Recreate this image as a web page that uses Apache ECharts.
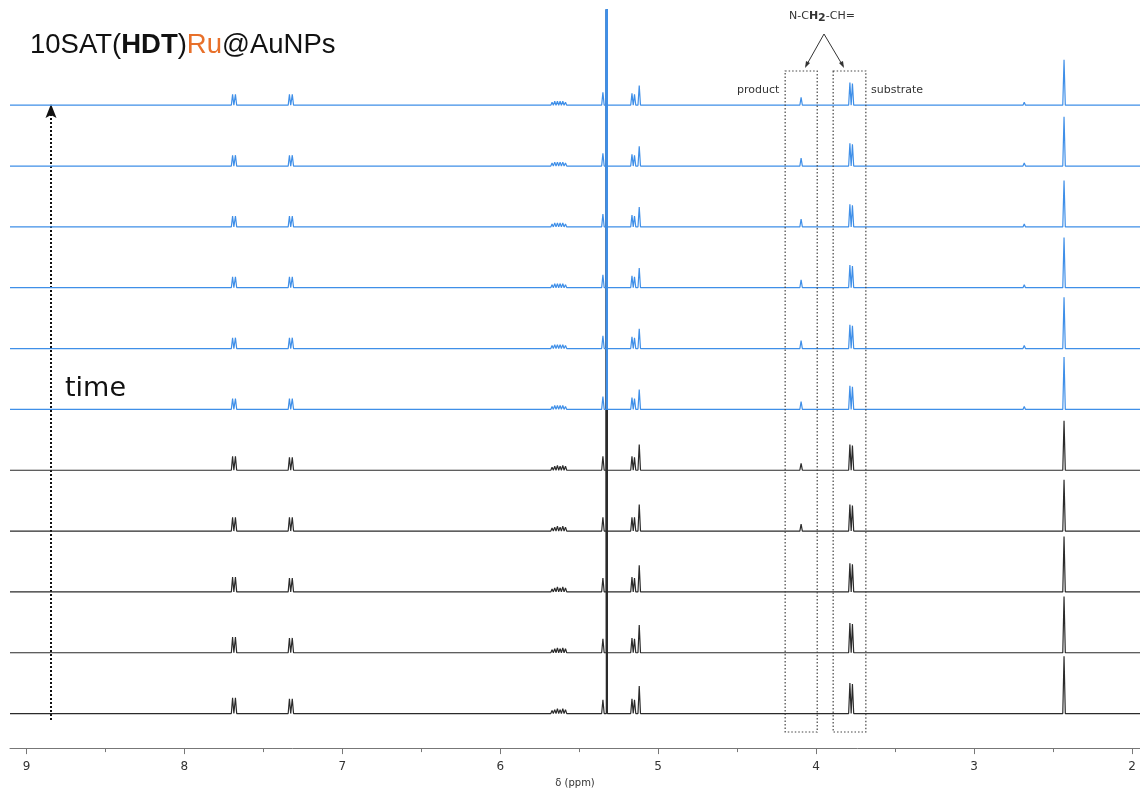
<!DOCTYPE html>
<html><head><meta charset="utf-8">
<script src="https://cdn.jsdelivr.net/npm/echarts@6/dist/echarts.min.js"></script>
<style>html,body{margin:0;background:#fff}#c{width:1140px;height:793px}</style>
</head><body><div id="c"></div>
<script>
// Chemical shifts (ppm) of the resolved resonances, low field first
const shifts = [7.695, 7.677, 7.335, 7.317,
  5.672, 5.655, 5.638, 5.621, 5.604, 5.587, 5.570,
  5.400, 5.350, 5.325, 5.166, 5.150, 5.120,
  4.095, 3.786, 3.770, 2.682, 2.430, 2.395, 2.125];

// Peak intensities per spectrum, earliest acquisition first
const earlySpectra = [
  [16,16,15,15, 3,4,5,4,5,4,2, 2,14,2000, 15,14,28, 1, 31,30, 2,58,2,2],
  [16,16,15,15, 3,4,5,4,5,4,2, 2,14,2000, 15,14,28, 1, 30,29, 2,57,2,2],
  [15,15,14,14, 3,4,5,4,5,4,2, 2,14,2000, 15,14,27, 2, 29,28, 2,56,2,2],
  [14,14,14,14, 3,4,5,4,5,4,2, 2,14,2000, 14,14,27, 7, 27,26, 2,52,2,2],
  [14,14,13,13, 3,4,5,4,5,4,2, 2,14,2000, 14,13,26, 7, 26,25, 2,50,2,2]
];
const lateSpectra = [
  [11,11,11,11, 3,4,4,4,4,3,2, 1,13,2000, 12,11,20, 8, 24,23, 3,53,2,2],
  [11,11,11,11, 3,4,4,4,4,3,2, 1,13,2000, 12,11,20, 8, 24,23, 3,52,2,2],
  [11,11,11,11, 3,4,4,4,4,3,2, 1,13,2000, 12,11,20, 8, 23,22, 3,51,2,2],
  [11,11,11,11, 3,4,4,4,4,3,2, 1,13,2000, 12,11,20, 8, 23,22, 3,47,2,2],
  [11,11,11,11, 3,4,4,4,4,3,2, 1,13,2000, 12,11,20, 8, 23,22, 3,50,2,2],
  [11,11,11,11, 3,4,4,4,4,3,2, 1,13,2000, 12,11,20, 8, 23,22, 3,46,2,2]
];

const ppmTicks = [2, 3, 4, 5, 6, 7, 8, 9];
const ppmMinorTicks = [2.5, 3.5, 4.5, 5.5, 6.5, 7.5, 8.5];

const PPM_MAX = 9.1045, PPM_MIN = 1.949;
const STACK = 61.65;         // vertical offset between stacked spectra
const AXIS_Y = 758;          // pixel row of the shift axis
const BASE0 = 723;           // pixel row of the earliest spectrum baseline
const BLACK = '#2b2b2b', BLUE = '#3f8fe8';

function trace(heights, offset) {
  const pts = [[PPM_MAX, offset]];
  heights.forEach((h, k) => {
    const c = shifts[k];
    const w = h > 500 ? 0.0035 : 0.008;
    pts.push([c + w, offset], [c, offset + h], [c - w, offset]);
  });
  pts.push([PPM_MIN, offset]);
  return pts;
}

const all = earlySpectra.map(h => ({ h, color: BLACK }))
  .concat(lateSpectra.map(h => ({ h, color: BLUE })));

const series = all.map((s, i) => ({
  type: 'line',
  data: trace(s.h, i * STACK),
  showSymbol: false,
  clip: true,
  lineStyle: { color: s.color, width: 1.2 },
  z: 2 + i,
  silent: true
}));

const chart = echarts.init(document.getElementById('c'), null, { renderer: 'canvas' });
chart.setOption({
  animation: false,
  backgroundColor: '#fff',
  grid: { left: 10, right: 0, top: 10, bottom: 793 - AXIS_Y },
  xAxis: [{
    type: 'value', inverse: true, min: PPM_MIN, max: PPM_MAX, position: 'bottom',
    name: 'δ (ppm)', nameLocation: 'middle', nameGap: 29,
    nameTextStyle: { fontFamily: 'DejaVu Sans', fontSize: 10, color: '#333' },
    axisLine: { show: true, onZero: false, lineStyle: { color: '#777', width: 1 } },
    axisTick: { show: true, length: 6, customValues: ppmTicks, lineStyle: { color: '#777' } },
    axisLabel: { customValues: ppmTicks, fontFamily: 'DejaVu Sans', fontSize: 12, color: '#333', margin: 13,
      formatter: v => String(Math.round(v)) },
    splitLine: { show: false }
  }, {
    type: 'value', inverse: true, min: PPM_MIN, max: PPM_MAX, position: 'bottom',
    axisLine: { show: false, onZero: false },
    axisTick: { show: true, length: 4, customValues: ppmMinorTicks, lineStyle: { color: '#777' } },
    axisLabel: { show: false },
    splitLine: { show: false }
  }],
  yAxis: { type: 'value', show: false, min: -(AXIS_Y - BASE0), max: BASE0 - 10, splitLine: { show: false } },
  series
});

// annotations placed against the shift scale
const px = v => chart.convertToPixel({ xAxisIndex: 0 }, v);
const boxTop = 71, boxBottom = 732;
const prodL = px(4.196), prodR = px(3.993);
const subL = px(3.892), subR = px(3.685);
const dotted = { stroke: '#444', lineWidth: 1.2, lineDash: [1.5, 2], fill: null };

chart.setOption({
  graphic: [
    {
      type: 'text', left: 30, top: 31,
      style: {
        text: '{n|10SAT(}{b|HDT}{n|)}{o|Ru}{n|@AuNPs}',
        rich: {
          n: { fontFamily: 'Liberation Sans', fontSize: 27.5, fill: '#111' },
          b: { fontFamily: 'Liberation Sans', fontSize: 27.5, fontWeight: 'bold', fill: '#111' },
          o: { fontFamily: 'Liberation Sans', fontSize: 27.5, fill: '#e8702a' }
        }
      }
    },
    { type: 'text', left: 65, top: 375, style: { text: 'time', fontFamily: 'DejaVu Sans', fontSize: 27, fill: '#111' } },
    { type: 'line', shape: { x1: 51, y1: 720, x2: 51, y2: 114 }, style: { stroke: '#111', lineWidth: 2, lineDash: [2, 2] } },
    { type: 'polygon', shape: { points: [[51, 104], [56.5, 118], [51, 115], [45.5, 118]] }, style: { fill: '#111' } },

    { type: 'rect', shape: { x: prodL, y: boxTop, width: prodR - prodL, height: boxBottom - boxTop }, style: dotted, z: 50 },
    { type: 'rect', shape: { x: subL, y: boxTop, width: subR - subL, height: boxBottom - boxTop }, style: dotted, z: 50 },

    {
      type: 'text', left: 789, top: 11,
      style: {
        text: '{n|N-C}{b|H}{s|2}{n|-CH=}',
        rich: {
          n: { fontFamily: 'DejaVu Sans', fontSize: 11, fill: '#333' },
          b: { fontFamily: 'DejaVu Sans', fontSize: 11, fontWeight: 'bold', fill: '#333' },
          s: { fontFamily: 'DejaVu Sans', fontSize: 11, fontWeight: 'bold', fill: '#333', verticalAlign: 'bottom', padding: [4, 0, 0, 0] }
        }
      }
    },
    { type: 'line', shape: { x1: 824, y1: 34, x2: 806, y2: 66 }, style: { stroke: '#333', lineWidth: 1 } },
    { type: 'line', shape: { x1: 824, y1: 34, x2: 843, y2: 66 }, style: { stroke: '#333', lineWidth: 1 } },
    { type: 'polygon', shape: { points: [[805, 68], [806, 61], [810, 63]] }, style: { fill: '#333' } },
    { type: 'polygon', shape: { points: [[844, 68], [843, 61], [839, 63]] }, style: { fill: '#333' } },

    { type: 'text', left: 737, top: 85, style: { text: 'product', fontFamily: 'DejaVu Sans', fontSize: 11, fill: '#333' } },
    { type: 'text', left: 871, top: 85, style: { text: 'substrate', fontFamily: 'DejaVu Sans', fontSize: 11, fill: '#333' } }
  ]
});
</script>
</body></html>
